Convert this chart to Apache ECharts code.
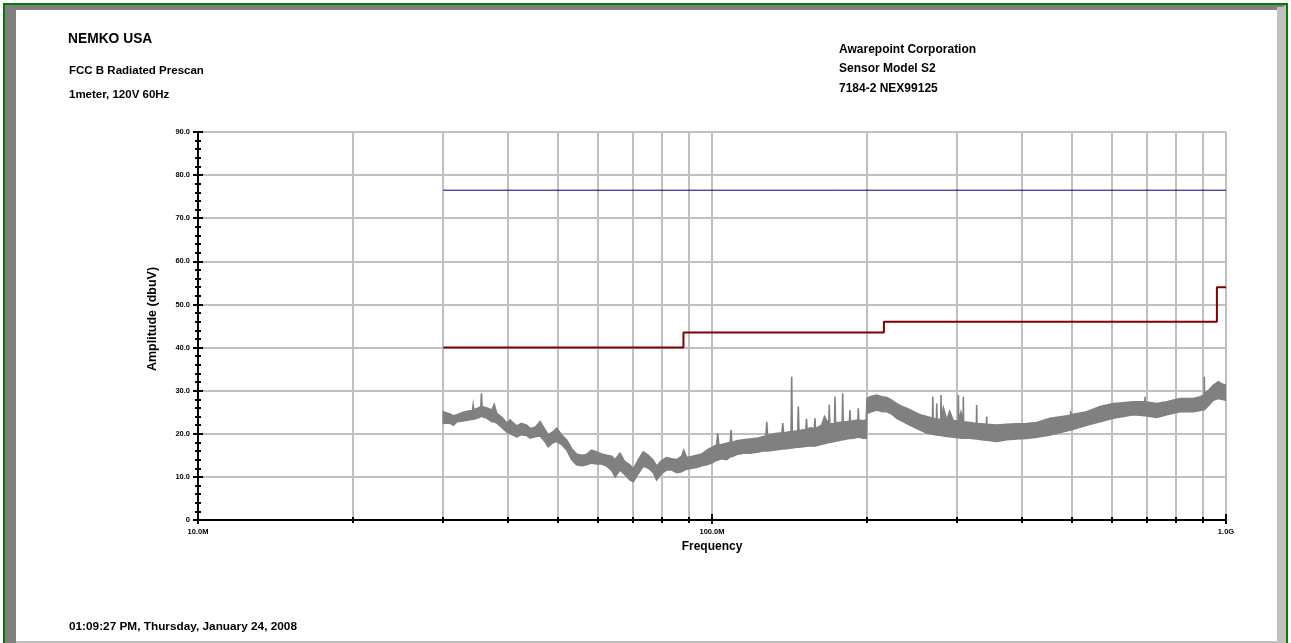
<!DOCTYPE html>
<html><head><meta charset="utf-8">
<script src="https://cdn.jsdelivr.net/npm/echarts@6/dist/echarts.min.js"></script>
<style>html,body{margin:0;padding:0;background:#fff}#c{width:1291px;height:643px}</style>
</head><body><div id="c"></div><script>
// ---- data (frequency in MHz, amplitude in dBuV) ----
const traceFreq = [30.0,30.9,31.4,31.9,32.8,33.6,34.2,34.3,34.4,35.1,35.5,35.6,35.7,36.5,37.3,37.7,38.1,39.0,39.9,40.5,
  40.8,41.7,42.6,43.6,44.3,45.3,46.3,47.3,48.0,49.1,49.9,51.0,52.2,53.3,54.5,55.8,57.0,58.3,59.7,61.0,
  62.4,63.8,64.8,66.2,67.7,69.2,70.3,71.9,73.5,75.2,76.9,78.0,79.8,81.6,83.5,85.4,87.3,88.1,89.3,91.3,
  93.4,95.5,97.7,99.9,102.1,102.6,103.1,104.4,106.8,108.5,108.9,109.3,111.7,115.1,118.6,123.1,125.5,127.3,127.8,128.3,
  131.6,136.8,137.3,137.8,140.8,142.5,142.9,143.3,145.0,146.8,147.2,147.6,150.5,152.3,152.7,153.1,155.1,158.2,158.6,159.0,163.4,165.5,168.7,
  169.1,169.5,173.1,173.5,173.9,176.1,179.2,179.6,180.0,182.7,185.1,185.5,185.9,188.3,192.2,192.6,193.0,197.0,199.6,200.2,203.0,209.1,213.9,
  218.8,223.7,228.8,233.9,239.2,246.4,254.0,261.7,268.5,268.9,269.3,273.3,273.7,274.1,278.6,279.0,279.4,282.0,286.2,290.0,
  294.8,301.1,301.5,301.9,305.0,307.9,308.3,308.7,317.7,326.9,327.3,327.7,334.7,341.9,342.3,342.7,358.0,374.5,391.6,409.5,
  428.3,454.8,498.4,498.8,499.2,535.8,568.7,603.6,631.3,660.2,695.4,695.8,696.2,733.3,766.8,813.8,863.8,890.1,907.1,907.5,
  907.9,923.9,944.8,966.2,980.0,1000.0];
const traceLow = [22.4,22.5,22.0,22.8,23.0,23.2,23.4,23.4,23.4,23.7,24.0,24.0,24.0,23.6,22.8,22.8,22.5,21.5,20.4,20.0,
  19.8,19.3,19.8,19.6,19.0,19.3,19.5,18.2,17.0,18.0,18.2,17.5,16.2,14.0,12.8,12.6,12.8,13.2,13.0,13.0,
  12.5,11.5,10.0,11.6,10.5,9.3,8.9,10.8,12.5,12.0,11.0,9.3,10.8,11.6,11.6,11.0,11.2,11.5,11.8,12.0,
  12.2,12.6,12.8,13.2,13.9,13.9,14.0,14.2,14.0,14.7,14.7,14.7,15.2,15.5,15.5,15.8,16.0,16.0,16.0,16.0,
  16.2,16.5,16.5,16.5,16.6,16.7,16.7,16.7,16.8,16.9,16.9,16.9,17.0,17.1,17.1,17.1,17.2,17.2,17.2,17.2,17.6,17.7,18.0,
  18.0,18.0,18.2,18.2,18.3,18.4,18.6,18.6,18.6,18.8,18.9,18.9,18.9,19.0,19.2,19.2,19.2,19.0,19.0,24.7,25.0,25.5,25.2,
  25.1,24.6,23.6,23.0,22.4,21.6,20.9,20.2,19.9,19.9,19.9,19.7,19.7,19.7,19.6,19.6,19.6,19.5,19.4,19.3,
  19.2,19.1,19.1,19.1,19.0,19.0,19.0,19.0,19.0,18.8,18.8,18.8,18.6,18.5,18.5,18.5,18.2,18.6,18.8,18.9,
  19.2,19.7,20.9,20.9,20.9,22.0,22.8,23.6,24.0,24.4,24.2,24.2,24.2,23.8,24.4,25.1,25.1,25.4,25.6,25.6,
  25.6,26.5,27.8,28.2,28.0,27.8];
const traceHigh = [25.1,24.6,24.2,24.4,25.0,25.3,25.4,26.7,25.6,26.0,26.3,29.4,26.3,26.0,25.5,26.8,24.8,23.8,22.5,23.2,
  22.8,21.8,22.4,22.0,21.2,21.5,22.8,21.0,19.8,20.5,21.3,19.7,18.5,16.6,15.3,15.0,15.2,16.2,15.8,15.3,
  15.0,14.8,14.0,15.5,13.5,12.8,11.8,14.0,15.8,15.0,13.8,12.5,13.8,14.5,14.2,14.0,14.8,16.2,14.5,14.7,
  15.0,15.3,16.2,16.8,17.4,20.1,17.4,17.5,17.8,18.0,20.9,18.0,18.4,18.6,18.8,19.0,19.3,19.5,22.8,19.6,
  20.0,20.2,22.5,20.2,20.4,20.5,33.2,20.5,20.6,20.7,26.3,20.7,20.9,21.0,23.5,21.0,21.4,21.2,23.6,21.2,22.0,24.0,22.2,
  26.7,22.3,22.4,28.6,22.5,22.6,22.7,29.4,22.7,22.8,22.9,25.5,22.9,23.0,23.2,25.9,23.2,23.0,23.2,28.2,28.6,29.0,28.6,
  28.4,27.8,27.0,26.4,25.9,25.2,24.4,24.0,23.6,28.6,23.6,23.4,27.0,23.4,23.3,29.0,23.3,26.0,23.2,25.2,
  23.0,23.0,29.0,23.0,25.0,22.8,28.6,22.8,22.6,22.4,26.7,22.4,22.3,22.2,24.0,22.2,22.0,22.2,22.3,22.4,
  22.6,23.6,24.3,25.3,24.4,25.1,26.3,27.0,27.2,27.4,27.4,28.6,27.4,27.0,27.4,28.2,28.2,28.6,29.0,33.2,
  29.2,30.0,31.3,32.1,31.6,31.3];
const limitFreq = [30, 88, 88, 216, 216, 960, 960, 1000];
const limitLevel = [40.0, 40.0, 43.5, 43.5, 46.0, 46.0, 54.0, 54.0];
const refFreq = [30, 1000];
const refLevel = [76.5, 76.5];
const xTickValues = [10,20,30,40,50,60,70,80,90,100,200,300,400,500,600,700,800,900,1000];
const xLabelValues = [10, 100, 1000];
const xLabelText = ['10.0M', '100.0M', '1.0G'];
const headerLeft = ['NEMKO USA', 'FCC B Radiated Prescan', '1meter, 120V 60Hz'];
const headerRight = ['Awarepoint Corporation', 'Sensor Model S2', '7184-2 NEX99125'];
const footerText = '01:09:27 PM, Thursday, January 24, 2008';
const xAxisTitle = 'Frequency';
const yAxisTitle = 'Amplitude (dbuV)';

// ---- chart ----
const FONT = '"Liberation Sans", Arial, Helvetica, sans-serif';
const SMALL = '"Liberation Sans Narrow", "Liberation Sans", Arial, sans-serif';
const chart = echarts.init(document.getElementById('c'), null, {renderer: 'canvas'});

const traceData = traceFreq.map((f, i) => [f, traceLow[i], traceHigh[i]]);
const limitData = limitFreq.map((f, i) => [f, limitLevel[i]]);
const refData = refFreq.map((f, i) => [f, refLevel[i]]);

function xAxisBase(extra) {
  return Object.assign({
    type: 'log', logBase: 10, min: 10, max: 1000, position: 'bottom', gridIndex: 0,
    axisLine: {show: false}, axisLabel: {show: false}, splitLine: {show: false},
    axisTick: {show: false}
  }, extra);
}
function yAxisBase(extra) {
  return Object.assign({
    type: 'value', min: 0, max: 90, interval: 10, position: 'left', gridIndex: 0,
    axisLine: {show: false}, axisLabel: {show: false}, splitLine: {show: false},
    axisTick: {show: false}
  }, extra);
}

const hdr = (text, x, y, size) => ({
  type: 'text', x: x, y: y, silent: true,
  style: {text: text, font: 'bold ' + size + 'px ' + FONT, fill: '#000', textAlign: 'left', textVerticalAlign: 'middle'}
});

// band (min/max envelope) drawn as one polygon through the axis scales
function renderBand(params, api) {
  if (params.dataIndex !== 0) return null;
  const top = [], bottom = [];
  for (let i = 0; i < traceData.length; i++) {
    top.push(api.coord([traceData[i][0], traceData[i][2]]));
    bottom.push(api.coord([traceData[i][0], traceData[i][1]]));
  }
  const pts = top.concat(bottom.reverse());
  return {
    type: 'polygon',
    shape: {points: pts},
    style: {fill: '#808080', stroke: '#808080', lineWidth: 1.6, lineJoin: 'miter'}
  };
}

const option = {
  animation: false,
  backgroundColor: '#fff',
  grid: {left: 198, right: 65, top: 132, bottom: 123, containLabel: false},
  xAxis: [
    xAxisBase({
      axisLine: {show: true, onZero: false, lineStyle: {color: '#000', width: 2}},
      axisTick: {show: true, customValues: xTickValues, length: 3, lineStyle: {color: '#000', width: 2}},
      axisLabel: {show: true, customValues: xLabelValues, margin: 8, color: '#000', fontSize: 7.5,
        fontWeight: 'bold', fontFamily: SMALL,
        formatter: v => xLabelText[xLabelValues.indexOf(Math.round(v))] || ''},
      splitLine: {show: true, lineStyle: {color: '#c0c0c0', width: 2}},
      name: xAxisTitle, nameLocation: 'middle', nameGap: 17,
      nameTextStyle: {color: '#000', fontSize: 12, fontWeight: 'bold', fontFamily: FONT}
    }),
    xAxisBase({axisTick: {show: true, inside: true, customValues: xTickValues, length: 3, lineStyle: {color: '#000', width: 2}}}),
    xAxisBase({axisTick: {show: true, customValues: xLabelValues, length: 4, lineStyle: {color: '#000', width: 2}}}),
    xAxisBase({axisTick: {show: true, inside: true, customValues: xLabelValues, length: 6, lineStyle: {color: '#000', width: 2}}})
  ],
  yAxis: [
    yAxisBase({
      axisLine: {show: true, onZero: false, lineStyle: {color: '#000', width: 2}},
      axisTick: {show: true, length: 5, lineStyle: {color: '#000', width: 2}},
      minorTick: {show: true, splitNumber: 5, length: 3, lineStyle: {color: '#000', width: 2}},
      axisLabel: {show: true, margin: 8, color: '#000', fontSize: 7.5, fontWeight: 'bold', fontFamily: SMALL,
        formatter: v => v === 0 ? '0' : v.toFixed(1)},
      splitLine: {show: true, lineStyle: {color: '#c0c0c0', width: 2}}
    }),
    yAxisBase({
      axisTick: {show: true, inside: true, length: 5, lineStyle: {color: '#000', width: 2}},
      minorTick: {show: true, splitNumber: 5, length: 3, lineStyle: {color: '#000', width: 2}}
    })
  ],
  series: [
    {type: 'custom', name: 'trace', data: traceData, renderItem: renderBand, silent: true, clip: true,
      encode: {x: 0, y: [1, 2]}, z: 2},
    {type: 'line', name: 'limit', data: limitData, symbol: 'none', silent: true,
      lineStyle: {color: '#800000', width: 2}, z: 3},
    {type: 'line', name: 'ref', data: refData, symbol: 'none', silent: true,
      lineStyle: {color: '#000080', width: 1}, z: 3}
  ],
  graphic: [
    // frame
    {type: 'rect', shape: {x: 3, y: 3, width: 1285, height: 700}, style: {fill: '#008000'}, silent: true, z: -10},
    {type: 'rect', shape: {x: 5, y: 5, width: 1281, height: 700}, style: {fill: '#808080'}, silent: true, z: -9},
    {type: 'rect', shape: {x: 1277, y: 7, width: 9, height: 700}, style: {fill: '#c0c0c0'}, silent: true, z: -8},
    {type: 'polygon', shape: {points: [[1277, 10], [1286, 5], [1286, 10]]}, style: {fill: '#c0c0c0'}, silent: true, z: -8},
    {type: 'rect', shape: {x: 16, y: 10, width: 1261, height: 700}, style: {fill: '#c0c0c0'}, silent: true, z: -7},
    {type: 'rect', shape: {x: 16, y: 10, width: 1261, height: 631}, style: {fill: '#ffffff'}, silent: true, z: -6},
    hdr(headerLeft[0], 68, 39.5, 13.8),
    hdr(headerLeft[1], 69, 70.5, 11.5),
    hdr(headerLeft[2], 69, 94.5, 11.5),
    hdr(headerRight[0], 839, 50, 12),
    hdr(headerRight[1], 839, 68.5, 12),
    hdr(headerRight[2], 839, 88.5, 12),
    hdr(footerText, 69, 627, 11.8),
    {type: 'text', x: 153, y: 319, rotation: Math.PI / 2, silent: true,
      style: {text: yAxisTitle, font: 'bold 12.5px ' + FONT, fill: '#000', textAlign: 'center', textVerticalAlign: 'middle'}}
  ]
};
chart.setOption(option);
</script></body></html>
